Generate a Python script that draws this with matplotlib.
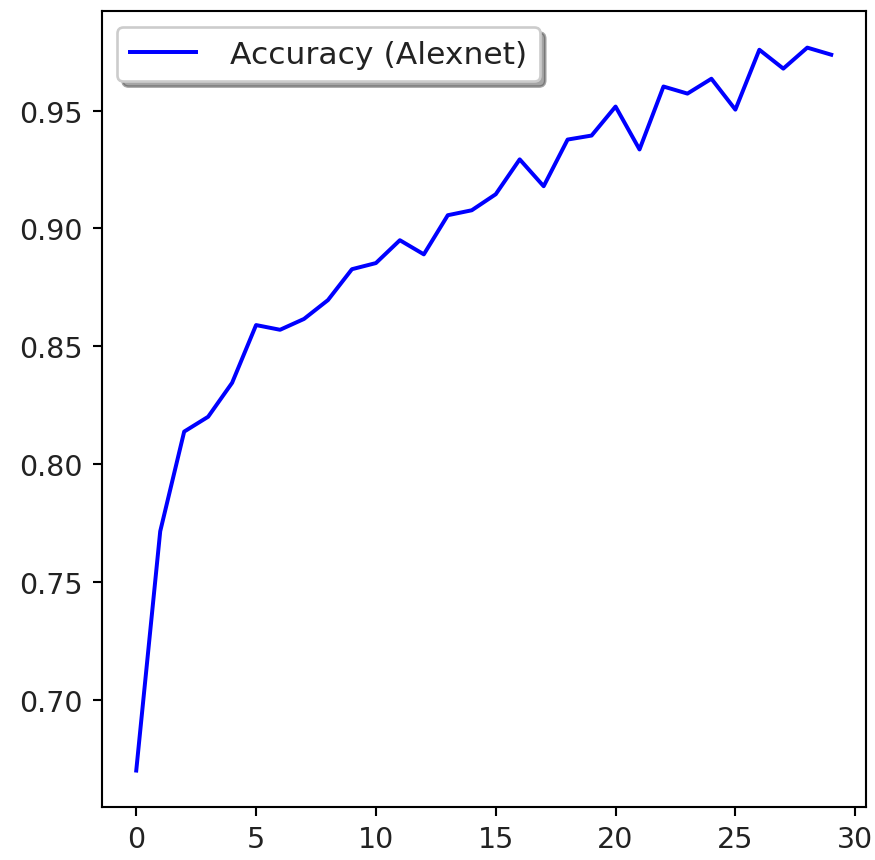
import matplotlib
matplotlib.use("Agg")
import matplotlib.pyplot as plt

# Per-epoch training accuracy of the AlexNet model
epochs = list(range(30))
accuracy = [0.670, 0.7715, 0.8138, 0.8201, 0.8345, 0.8590, 0.8570, 0.8616,
            0.8696, 0.8827, 0.8853, 0.8950, 0.8890, 0.9056, 0.9077, 0.9145,
            0.9293, 0.9179, 0.9377, 0.9394, 0.9517, 0.9335, 0.9602, 0.9572,
            0.9635, 0.9504, 0.9758, 0.9678, 0.9767, 0.9737]
series_label = "Accuracy (Alexnet)"

DPI = 190
text_color = "#222222"
fig = plt.figure(figsize=(875 / DPI, 861 / DPI), dpi=DPI)
ax = fig.add_axes([0.116, 0.0619, 0.8737, 0.9236])

ax.plot(epochs, accuracy, color="blue", linewidth=1.5, label=series_label)
ax.tick_params(labelsize=10.8, labelcolor=text_color)
leg = ax.legend(loc="upper left", fontsize=11.9, shadow=True, fancybox=True,
                handlelength=2.1, handletextpad=1.1)
for t in leg.get_texts():
    t.set_color(text_color)

fig.savefig("out.png", dpi=DPI)
